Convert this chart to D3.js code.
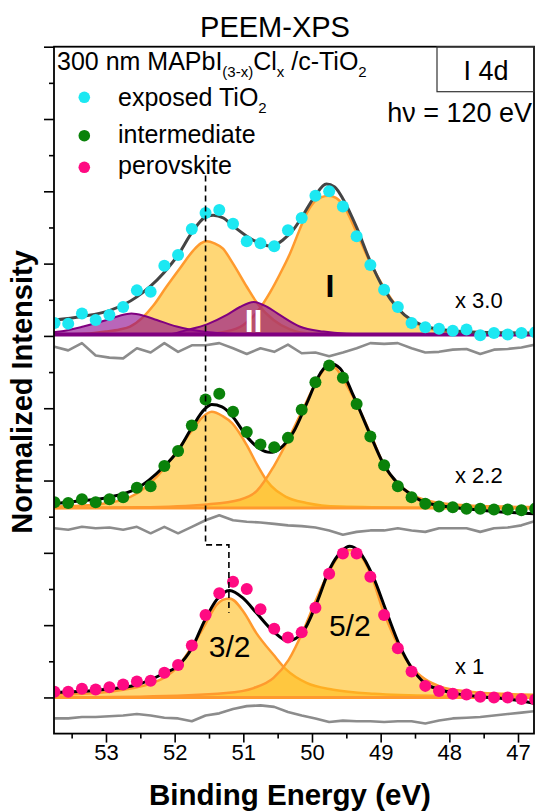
<!DOCTYPE html>
<html>
<head>
<meta charset="utf-8">
<script src="https://cdn.jsdelivr.net/npm/d3@7"></script>
<style>
  body { margin: 0; background: #fff; }
  text { font-family: "Liberation Sans", Arial, sans-serif; }
</style>
</head>
<body>
<svg width="536" height="812"></svg>
<script>
// binding energies of the measured points (eV)
var energy = [53.75, 53.55, 53.35, 53.15, 52.95, 52.75, 52.55, 52.35, 52.15, 51.95, 51.75, 51.55,
  51.35, 51.15, 50.95, 50.75, 50.55, 50.35, 50.15, 49.95, 49.75, 49.55, 49.35, 49.15,
  48.95, 48.75, 48.55, 48.35, 48.15, 47.95, 47.75, 47.55, 47.35, 47.15, 46.95, 46.75];

// measured intensities, relative to each spectrum's own baseline
var tio2Dots = [0.16, 0.15, 0.29, 0.20, 0.27, 0.38, 0.61, 0.59, 0.95, 1.10, 1.46, 1.68,
  1.72, 1.53, 1.29, 1.26, 1.22, 1.44, 1.61, 1.92, 1.98, 1.77, 1.36, 0.96,
  0.62, 0.38, 0.16, 0.10, 0.08, 0.05, 0.07, -0.01, 0.02, 0.00, 0.02, 0.03];
var interDots = [0.08, 0.07, 0.12, 0.08, 0.12, 0.15, 0.28, 0.30, 0.58, 0.79, 1.14, 1.50,
  1.58, 1.33, 1.05, 0.88, 0.84, 0.97, 1.36, 1.74, 1.97, 1.80, 1.44, 0.99,
  0.59, 0.30, 0.15, 0.06, 0.02, 0.01, -0.01, -0.01, -0.02, -0.02, -0.03, -0.01];
var perovDots = [0.08, 0.08, 0.12, 0.11, 0.14, 0.18, 0.22, 0.23, 0.34, 0.45, 0.72, 1.14,
  1.44, 1.60, 1.50, 1.22, 0.95, 0.83, 0.90, 1.24, 1.71, 1.99, 1.99, 1.67,
  1.14, 0.68, 0.36, 0.16, 0.09, 0.05, 0.04, 0.01, 0.00, 0.00, -0.02, -0.03];

// fit residuals
var tio2Resid = [0.03, -0.02, 0.08, -0.09, -0.12, -0.13, 0.01, -0.05, 0.08, -0.04, 0.05, 0.05,
  0.08, 0.01, -0.07, 0.01, -0.04, 0.06, -0.06, -0.05, -0.10, -0.05, 0.01, 0.08,
  0.07, 0.08, 0.01, -0.05, -0.04, -0.01, 0.00, -0.07, -0.01, 0.00, 0.02, 0.06];
var interResid = [0.00, -0.02, 0.02, 0.00, 0.01, -0.02, 0.02, -0.07, 0.02, -0.07, 0.02, 0.11,
  0.18, 0.11, 0.09, 0.08, 0.06, 0.04, 0.03, 0.01, -0.03, -0.09, -0.05, -0.03,
  -0.03, 0.00, -0.03, -0.05, 0.00, 0.00, 0.00, -0.05, 0.00, 0.01, 0.04, 0.10];
var perovResid = [-0.03, -0.03, -0.01, -0.01, 0.00, 0.01, 0.03, 0.01, -0.02, -0.03, -0.07, 0.01,
  0.04, 0.10, 0.14, 0.15, 0.13, 0.06, 0.01, -0.03, -0.08, -0.06, -0.07, -0.07,
  -0.08, -0.07, -0.07, -0.10, -0.06, -0.03, -0.02, -0.01, 0.01, 0.03, 0.05, 0.07];

// fitted curves [eV, intensity]
var tio2Env = [[53.76,0.20],[53.35,0.25],[52.95,0.33],[52.55,0.52],[52.16,0.85],[51.95,1.10],[51.75,1.41],
  [51.56,1.62],[51.44,1.65],[51.29,1.61],[51.16,1.51],[50.95,1.36],[50.76,1.26],[50.59,1.22],[50.42,1.31],
  [50.27,1.45],[50.13,1.65],[49.96,1.91],[49.79,2.08],[49.67,2.04],[49.54,1.86],[49.35,1.48],[49.16,1.03],
  [48.96,0.64],[48.75,0.36],[48.55,0.20],[48.36,0.12],[47.95,0.05],[47.55,0.03],[46.77,0.02]];
var tio2Peak32 = [[53.76,0],[53.3,0.01],[53.0,0.04],[52.8,0.07],[52.65,0.11],[52.46,0.24],[52.31,0.40],
  [52.12,0.66],[51.92,0.92],[51.73,1.16],[51.62,1.26],[51.53,1.29],[51.42,1.26],[51.3,1.19],[51.15,0.98],
  [50.95,0.66],[50.81,0.45],[50.56,0.20],[50.32,0.07],[50.0,0.01],[49.5,0],[46.77,0]];
var tio2Peak52 = [[53.76,0],[51.6,0],[51.3,0.03],[51.0,0.13],[50.8,0.31],[50.6,0.60],[50.47,0.83],
  [50.32,1.12],[50.18,1.45],[50.08,1.67],[49.96,1.84],[49.86,1.90],[49.76,1.92],[49.65,1.89],[49.54,1.78],
  [49.35,1.41],[49.15,0.99],[48.96,0.66],[48.76,0.38],[48.57,0.20],[48.38,0.11],[48.2,0.06],[48.0,0.035],
  [47.6,0.015],[47.0,0.005],[46.77,0]];
var tio2PeakII = [[53.76,0],[52.1,0],[51.83,0.06],[51.53,0.14],[51.24,0.27],[51.05,0.38],[50.85,0.45],
  [50.65,0.38],[50.47,0.27],[50.18,0.11],[49.83,0.04],[49.5,0.01],[49.1,0],[46.77,0]];
var tio2PeakIIb = [[53.76,0.03],[53.67,0.04],[53.33,0.11],[52.99,0.20],[52.8,0.26],[52.63,0.29],
  [52.45,0.26],[52.26,0.20],[51.97,0.11],[51.78,0.07],[51.5,0.03],[51.2,0.01],[50.8,0],[46.77,0]];

var interEnv = [[53.76,0.06],[53.35,0.10],[52.95,0.15],[52.55,0.27],[52.16,0.57],[51.96,0.78],[51.75,1.11],
  [51.56,1.37],[51.46,1.43],[51.31,1.40],[51.15,1.26],[50.95,0.99],[50.76,0.82],[50.61,0.77],[50.47,0.82],
  [50.27,1.05],[50.08,1.44],[49.88,1.86],[49.74,2.00],[49.59,1.93],[49.40,1.56],[49.16,1.03],[48.96,0.61],
  [48.75,0.34],[48.55,0.18],[48.36,0.08],[47.95,0.01],[47.55,-0.03],[46.77,-0.08]];
var interPeak32 = [[53.76,0.02],[53.14,0.05],[52.75,0.115],[52.55,0.20],[52.36,0.34],[52.16,0.54],
  [51.96,0.80],[51.75,1.07],[51.6,1.25],[51.46,1.33],[51.3,1.27],[51.16,1.17],[50.95,0.87],[50.8,0.60],
  [50.66,0.38],[50.37,0.15],[50.08,0.07],[49.6,0.02],[48.5,0.005],[46.77,0]];
var interPeak52 = [[53.76,0],[52.5,0.01],[51.53,0.05],[51.05,0.115],[50.8,0.24],[50.56,0.57],[50.35,0.94],
  [50.15,1.33],[49.95,1.72],[49.84,1.90],[49.74,1.97],[49.64,1.92],[49.55,1.79],[49.35,1.44],[49.15,1.03],
  [48.96,0.61],[48.75,0.34],[48.55,0.19],[48.35,0.11],[47.95,0.05],[47.2,0.02],[46.77,0.014]];

var perovEnv = [[53.76,0.07],[53.14,0.10],[52.55,0.175],[52.16,0.33],[51.96,0.43],[51.75,0.68],[51.56,1.07],
  [51.39,1.35],[51.2,1.48],[51.0,1.37],[50.81,1.17],[50.56,0.91],[50.35,0.78],[50.13,0.91],[49.93,1.31],
  [49.74,1.78],[49.57,2.02],[49.45,2.09],[49.30,2.00],[49.11,1.67],[48.91,1.17],[48.72,0.71],[48.55,0.41],
  [48.36,0.20],[48.14,0.11],[47.94,0.06],[47.55,0.01],[47.17,-0.02],[46.77,-0.08]];
var perovPeak32 = [[53.76,0.037],[53.14,0.06],[52.75,0.106],[52.36,0.19],[52.16,0.27],[51.95,0.43],
  [51.75,0.70],[51.56,1.00],[51.39,1.28],[51.3,1.35],[51.2,1.37],[51.0,1.19],[50.81,0.89],[50.56,0.59],
  [50.37,0.38],[50.08,0.20],[49.69,0.106],[49.1,0.05],[48.2,0.023],[46.77,0.014]];
var perovPeak52 = [[53.76,0],[52.5,0.01],[51.25,0.06],[50.85,0.13],[50.56,0.27],[50.34,0.52],[50.12,0.94],
  [49.95,1.33],[49.74,1.76],[49.58,1.99],[49.45,2.04],[49.3,1.97],[49.15,1.72],[48.96,1.19],[48.74,0.71],
  [48.55,0.42],[48.35,0.25],[48.13,0.15],[47.74,0.083],[47.2,0.05],[46.77,0.037]];

// vertical offsets of the stacked spectra
var offsets = [5.02, 2.62, 0];
var residOffsets = [4.82, 2.34, -0.26];
var scaleLabels = ['x 3.0', 'x 2.2', 'x 1'];

var plotLeft = 54, plotRight = 534, plotTop = 46.7, plotBottom = 733.6;

var svg = d3.select('svg');

var x = d3.scaleLinear().domain([53.757, 46.767]).range([plotLeft, plotRight]);
var y = d3.scaleLinear().domain([-0.5, 9]).range([plotBottom, plotTop]);

svg.append('clipPath').attr('id', 'plot')
  .append('rect')
  .attr('x', plotLeft).attr('y', plotTop)
  .attr('width', plotRight - plotLeft).attr('height', plotBottom - plotTop);

var plot = svg.append('g').attr('clip-path', 'url(#plot)');

var orange = '#ff9a2e';
var orangeFill = '#ffbd1a';
var purple = '#800080';

function areaAt(off) {
  return d3.area()
    .x((d) => x(d[0]))
    .y0(y(off))
    .y1((d) => y(off + d[1]))
    .curve(d3.curveMonotoneX);
}
function lineAt(off) {
  return d3.line()
    .x((d) => x(d[0]))
    .y((d) => y(off + d[1]))
    .curve(d3.curveMonotoneX);
}

function drawPeak(data, off, fill, fillOpacity, stroke, sw) {
  plot.append('path').datum(data)
    .attr('d', areaAt(off))
    .attr('fill', fill)
    .attr('fill-opacity', fillOpacity);
  plot.append('path').datum(data)
    .attr('d', lineAt(off))
    .attr('fill', 'none')
    .attr('stroke', stroke)
    .attr('stroke-width', sw);
}

function drawResid(values, off) {
  plot.append('path')
    .datum(values)
    .attr('d', d3.line()
      .x((d, i) => x(energy[i]))
      .y((d) => y(off + d)))
    .attr('fill', 'none')
    .attr('stroke', '#8c8c8c')
    .attr('stroke-width', 2.6)
    .attr('stroke-linejoin', 'round');
}

function drawDots(values, off, color) {
  plot.append('g')
    .selectAll('circle')
    .data(values)
    .enter()
    .append('circle')
    .attr('cx', (d, i) => x(energy[i]))
    .attr('cy', (d) => y(off + d))
    .attr('r', 6)
    .attr('fill', color);
}

function drawEnv(data, off, color) {
  plot.append('path').datum(data)
    .attr('d', lineAt(off))
    .attr('fill', 'none')
    .attr('stroke', color)
    .attr('stroke-width', 3);
}

function baseline(off, color, sw) {
  plot.append('line')
    .attr('x1', plotLeft).attr('x2', plotRight)
    .attr('y1', y(off)).attr('y2', y(off))
    .attr('stroke', color)
    .attr('stroke-width', sw);
}

// exposed TiO2 (top)
drawResid(tio2Resid, residOffsets[0]);
drawPeak(tio2Peak32, offsets[0], orangeFill, 0.6, orange, 2.5);
drawPeak(tio2Peak52, offsets[0], orangeFill, 0.6, orange, 2.5);
drawPeak(tio2PeakIIb, offsets[0], '#8b008b', 0.6, purple, 2);
drawPeak(tio2PeakII, offsets[0], '#8b008b', 0.6, purple, 2);
baseline(offsets[0], purple, 4);
drawEnv(tio2Env, offsets[0], '#444');
drawDots(tio2Dots, offsets[0], '#1ce8f2');

// intermediate (middle)
drawResid(interResid, residOffsets[1]);
drawPeak(interPeak32, offsets[1], orangeFill, 0.6, orange, 2.5);
drawPeak(interPeak52, offsets[1], orangeFill, 0.6, orange, 2.5);
baseline(offsets[1], orange, 3);
drawEnv(interEnv, offsets[1], '#000');
drawDots(interDots, offsets[1], '#0a820a');

// perovskite (bottom)
drawResid(perovResid, residOffsets[2]);
drawPeak(perovPeak32, offsets[2], orangeFill, 0.6, orange, 2.5);
drawPeak(perovPeak52, offsets[2], orangeFill, 0.6, orange, 2.5);
baseline(offsets[2], orange, 3);
drawEnv(perovEnv, offsets[2], '#000');
drawDots(perovDots, offsets[2], '#ff0a82');

// dashed guide: shift of the 3/2 peak
var guide = [[51.55, 7.22], [51.55, 2.11], [51.21, 2.11], [51.21, 1.17]];
svg.append('path')
  .datum(guide)
  .attr('d', d3.line().x((d) => x(d[0])).y((d) => y(d[1])))
  .attr('fill', 'none')
  .attr('stroke', '#000')
  .attr('stroke-width', 1.6)
  .attr('stroke-dasharray', '6,4');

// axes
var yMajor = d3.axisLeft(y).tickValues(d3.range(0, 9.01, 1)).tickSize(10).tickFormat('');
var yMinor = d3.axisLeft(y).tickValues(d3.range(0.5, 9, 1)).tickSize(5).tickFormat('');
var xMajor = d3.axisBottom(x).tickValues(d3.range(47, 53.01, 1)).tickSize(9).tickFormat(d3.format('d'));
var xMinor = d3.axisBottom(x).tickValues(d3.range(47.5, 53.6, 1)).tickSize(5).tickFormat('');

[yMajor, yMinor].forEach(function (ax) {
  var g = svg.append('g').attr('transform', 'translate(' + plotLeft + ',0)').call(ax);
  g.select('.domain').remove();
  g.selectAll('line').attr('stroke-width', 1.6);
});
[xMinor, xMajor].forEach(function (ax) {
  var g = svg.append('g').attr('transform', 'translate(0,' + plotBottom + ')').call(ax);
  g.select('.domain').remove();
  g.selectAll('line').attr('stroke-width', 1.6);
  g.selectAll('text')
    .attr('y', 26.5)
    .attr('dy', 0)
    .attr('font-size', 22)
    .attr('fill', '#000')
    .style('font-family', '"Liberation Sans", Arial, sans-serif');
});

svg.append('rect')
  .attr('x', plotLeft).attr('y', plotTop)
  .attr('width', plotRight - plotLeft).attr('height', plotBottom - plotTop)
  .attr('fill', 'none')
  .attr('stroke', '#000')
  .attr('stroke-width', 1.8);

// axis titles
svg.append('text')
  .attr('x', 290).attr('y', 805)
  .attr('text-anchor', 'middle')
  .attr('font-size', 29.5).attr('font-weight', 'bold')
  .text('Binding Energy (eV)');

svg.append('text')
  .attr('transform', 'rotate(-90)')
  .attr('x', -392).attr('y', 32)
  .attr('text-anchor', 'middle')
  .attr('font-size', 29).attr('font-weight', 'bold')
  .text('Normalized Intensity');

svg.append('text')
  .attr('x', 275).attr('y', 36.5)
  .attr('text-anchor', 'middle')
  .attr('font-size', 29)
  .text('PEEM-XPS');

// sample description
var desc = svg.append('text').attr('x', 57).attr('y', 70).attr('font-size', 25);
desc.append('tspan').text('300 nm MAPbI');
desc.append('tspan').attr('font-size', 15).attr('dy', 7).text('(3-x)');
desc.append('tspan').attr('dy', -7).text('Cl');
desc.append('tspan').attr('font-size', 15).attr('dy', 7).text('x');
desc.append('tspan').attr('dy', -7).text(' /c-TiO');
desc.append('tspan').attr('font-size', 15).attr('dy', 7).text('2');

// I 4d box
svg.append('rect')
  .attr('x', 437).attr('y', plotTop)
  .attr('width', plotRight - 437).attr('height', 91.7 - plotTop)
  .attr('fill', 'none').attr('stroke', '#333').attr('stroke-width', 1.2);
svg.append('text')
  .attr('x', 486).attr('y', 80)
  .attr('text-anchor', 'middle')
  .attr('font-size', 27)
  .text('I 4d');

svg.append('text')
  .attr('x', 532).attr('y', 121.7)
  .attr('text-anchor', 'end')
  .attr('font-size', 27)
  .text('h\u03bd = 120 eV');

// legend
var legend = [
  { label: 'exposed TiO', sub: '2', color: '#1ce8f2', cy: 97.3, ty: 105.7 },
  { label: 'intermediate', sub: '', color: '#0a820a', cy: 135.7, ty: 143.3 },
  { label: 'perovskite', sub: '', color: '#ff0a82', cy: 167.3, ty: 174 },
];
legend.forEach(function (l) {
  svg.append('circle').attr('cx', 84.3).attr('cy', l.cy).attr('r', 5.8).attr('fill', l.color);
  var t = svg.append('text').attr('x', 118).attr('y', l.ty).attr('font-size', 25).text(l.label);
  if (l.sub) t.append('tspan').attr('font-size', 15).attr('dy', 7).text(l.sub);
});

// scale factors
var scaleY = [308, 483, 674];
scaleLabels.forEach(function (s, i) {
  svg.append('text')
    .attr('x', 455).attr('y', scaleY[i])
    .attr('font-size', 22)
    .text(s);
});

// peak labels
svg.append('text')
  .attr('x', x(49.74)).attr('y', 297)
  .attr('text-anchor', 'middle')
  .attr('font-size', 32).attr('font-weight', 'bold')
  .text('I');
svg.append('text')
  .attr('x', x(50.85)).attr('y', 332)
  .attr('text-anchor', 'middle')
  .attr('font-size', 32).attr('font-weight', 'bold')
  .attr('fill', '#fff')
  .text('II');
svg.append('text')
  .attr('x', x(51.2)).attr('y', 657)
  .attr('text-anchor', 'middle')
  .attr('font-size', 30)
  .text('3/2');
svg.append('text')
  .attr('x', x(49.45)).attr('y', 636)
  .attr('text-anchor', 'middle')
  .attr('font-size', 30)
  .text('5/2');
</script>
</body>
</html>
